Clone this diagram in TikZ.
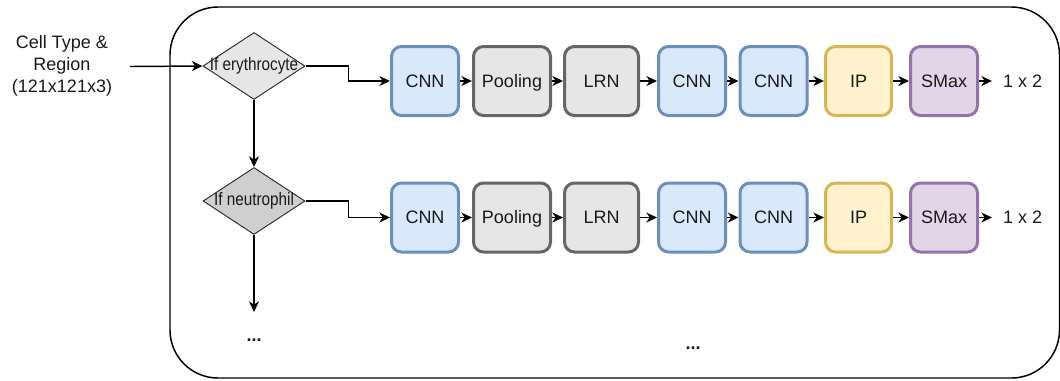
\documentclass[tikz,border=0pt]{standalone}
\usepackage{fontspec}
\usepackage{graphicx}
\setmainfont{Liberation Sans}
\usetikzlibrary{arrows.meta,shapes.geometric}
\definecolor{bluef}{HTML}{DAE8FC}
\definecolor{blued}{HTML}{6C8EBF}
\definecolor{grayf}{HTML}{E6E6E6}
\definecolor{grayd}{HTML}{666666}
\definecolor{yelf}{HTML}{FFF2CC}
\definecolor{yeld}{HTML}{D6B656}
\definecolor{purf}{HTML}{E1D5E7}
\definecolor{purd}{HTML}{9673A6}
\definecolor{dia1}{HTML}{E6E6E6}
\definecolor{dia2}{HTML}{CFCFCF}
\definecolor{txt}{HTML}{1A1A1A}
\tikzset{
  lbl/.style={font=\fontsize{13.5}{16.5}\selectfont, text=txt},
  box/.style={draw, rounded corners=7.5pt, line width=2.25pt, minimum height=51.75pt, inner sep=0pt, text height=9.7pt, text depth=0pt, lbl},
  cnnbox/.style={box, fill=bluef, draw=blued, minimum width=50.25pt},
  poolbox/.style={box, fill=grayf, draw=grayd, minimum width=57.75pt},
  lrnbox/.style={box, fill=grayf, draw=grayd, minimum width=55.5pt},
  ipbox/.style={box, fill=yelf, draw=yeld, minimum width=49.5pt},
  smbox/.style={box, fill=purf, draw=purd, minimum width=50.25pt},
  dec/.style={diamond, draw=black!80, line width=0.75pt, minimum width=76.5pt, minimum height=50.25pt, inner sep=0pt},
  arr/.style={draw=black, line width=1.1pt, -{Stealth[length=8pt,width=7.5pt,inset=2.5pt]}},
  outlbl/.style={lbl, anchor=west, inner sep=0pt, outer sep=0pt, text height=9.7pt, text depth=0pt},
}
\begin{document}
\begin{tikzpicture}[x=0.75pt,y=-0.75pt]
\useasboundingbox (0,0) rectangle (1060,380);
\draw[line width=1.1pt, rounded corners=36pt] (170,7) rectangle (1059.5,378);

\node[lbl, align=center] (input) at (62,66) {Cell Type \&\\Region\\(121x121x3)};
\coordinate (inarr) at (130,66.5);

\node[dec, fill=dia1, label={[lbl]center:\scalebox{0.85}[1]{If erythrocyte}}] (d1) at (254,66) {};
\node[dec, fill=dia2, label={[lbl]center:\scalebox{0.85}[1]{If neutrophil}}] (d2) at (254,201) {};
\coordinate (down) at (254,312);
\node[lbl] (dots1) at (254,340) {\textbf{...}};
\node[lbl] (dots2) at (693,348) {\textbf{...}};

% row 1
\node[cnnbox] (a1) at (425,81) {CNN};
\node[poolbox] (a2) at (512,81) {Pooling};
\node[lrnbox] (a3) at (601.5,81) {LRN};
\node[cnnbox] (a4) at (692,81) {CNN};
\node[cnnbox] (a5) at (773.5,81) {CNN};
\node[ipbox] (a6) at (858.5,81) {IP};
\node[smbox] (a7) at (944,81) {SMax};
\node[outlbl] (o1) at (1003,81) {1 x 2};
\coordinate (t1) at (992,81);

% row 2
\node[cnnbox] (b1) at (425,217.5) {CNN};
\node[poolbox] (b2) at (512,217.5) {Pooling};
\node[lrnbox] (b3) at (601.5,217.5) {LRN};
\node[cnnbox] (b4) at (692,217.5) {CNN};
\node[cnnbox] (b5) at (773.5,217.5) {CNN};
\node[ipbox] (b6) at (858.5,217.5) {IP};
\node[smbox] (b7) at (944,217.5) {SMax};
\node[outlbl] (o2) at (1003,217.5) {1 x 2};
\coordinate (t2) at (992,217.5);

\draw[arr] (inarr) -- (d1.west);
\draw[arr] (d1.east) -- ++(43,0) |- (a1.west);
\draw[arr] (d2.east) -- ++(43,0) |- (b1.west);
\draw[arr] (d1.south) -- (d2.north);
\draw[arr] (d2.south) -- (down);

\foreach \p/\q in {a1/a2,a2/a3,a3/a4,a4/a5,a5/a6,a6/a7,b1/b2,b2/b3,b3/b4,b4/b5,b5/b6,b6/b7}
  \draw[arr] (\p) -- (\q);
\draw[arr] (a7.east) -- (t1);
\draw[arr] (b7.east) -- (t2);
\end{tikzpicture}
\end{document}
